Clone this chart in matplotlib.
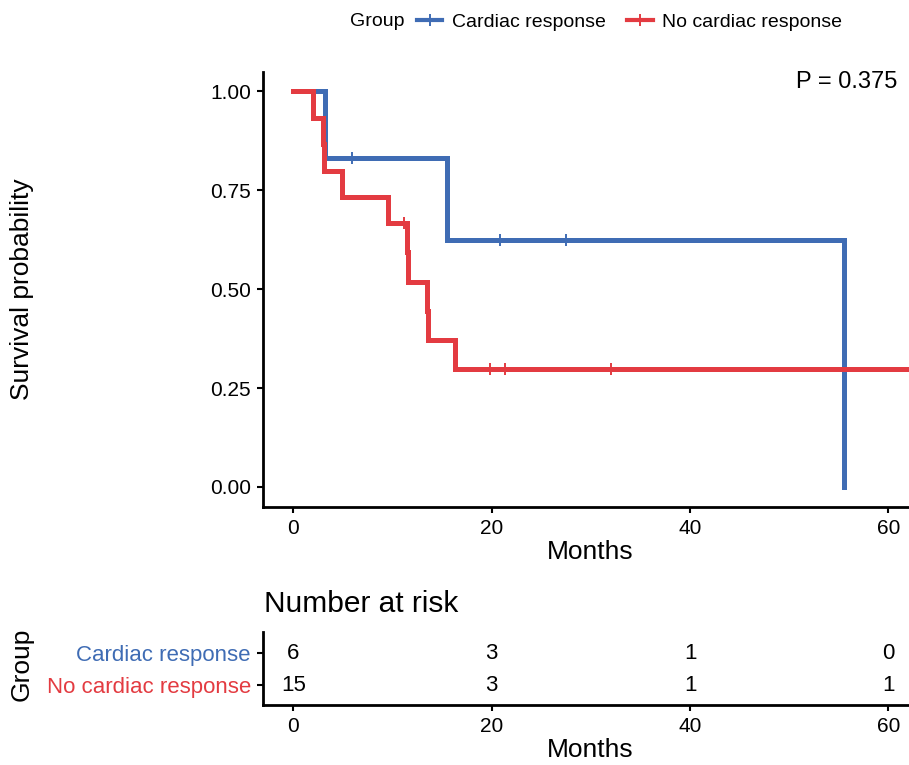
import matplotlib
matplotlib.use("Agg")
import matplotlib.pyplot as plt
from matplotlib.lines import Line2D

plt.rcParams['font.family'] = ['Liberation Sans', 'DejaVu Sans']

# ---- data ----
groups = ["Cardiac response", "No cardiac response"]
colors = ["#3F6CB4", "#E33B41"]

blue_times = [0, 3.2, 15.5, 55.5]
blue_surv = [1.0, 0.833, 0.625, 0.0]
blue_cens_t = [5.9, 20.8, 27.5]
blue_cens_s = [0.833, 0.625, 0.625]

red_times = [0, 2.0, 3.03, 3.13, 4.94, 9.58, 11.43, 11.53, 13.45, 13.6, 16.34, 64.0]
red_surv = [1.0, 0.933, 0.867, 0.800, 0.733, 0.667, 0.593, 0.519, 0.445, 0.371, 0.297, 0.297]
red_cens_t = [11.16, 19.84, 21.3, 32.0]
red_cens_s = [0.667, 0.297, 0.297, 0.297]

risk_times = [0, 20, 40, 60]
risk_blue = [6, 3, 1, 0]
risk_red = [15, 3, 1, 1]

p_text = "P = 0.375"
xticks = [0, 20, 40, 60]
yticks = [0.0, 0.25, 0.5, 0.75, 1.0]
ytick_labels = ["0.00", "0.25", "0.50", "0.75", "1.00"]

W, H = 909, 765
fig = plt.figure(figsize=(W / 100, H / 100), dpi=100)

def fx(px):
    return px / W

def fy(py):
    return 1 - py / H

xmin, xmax = -3.03, 63.6
left_px = 263.3
ppm = 9.917
right_px = left_px + (xmax - xmin) * ppm

# ---- main axes ----
ax = fig.add_axes([fx(left_px), fy(506.7), fx(right_px - left_px), (506.7 - 71.7) / H])
ax.step(blue_times, blue_surv, where='post', color=colors[0], lw=3.6, solid_joinstyle='miter', zorder=3)
ax.step(red_times, red_surv, where='post', color=colors[1], lw=3.6, solid_joinstyle='miter', zorder=4)
ax.plot(blue_cens_t, blue_cens_s, ls='none', marker='|', ms=8.5, mew=1.4, color=colors[0], zorder=5)
ax.plot(red_cens_t, red_cens_s, ls='none', marker='|', ms=8.5, mew=1.4, color=colors[1], zorder=5)
ax.set_xlim(xmin, xmax)
ax.set_ylim(-0.05, 1.05)
ax.set_xticks(xticks)
ax.set_yticks(yticks)
ax.set_yticklabels(ytick_labels)
for s in ['top', 'right']:
    ax.spines[s].set_visible(False)
for s in ['left', 'bottom']:
    ax.spines[s].set_linewidth(2.0)
ax.tick_params(length=4, width=1.5, labelsize=15, pad=5, color='black')
ax.set_facecolor('none')

fig.text(fx(22), fy(289), "Survival probability", rotation=90, fontsize=19, ha='center', va='center')
fig.text(fx(590.5), fy(552), "Months", fontsize=19, ha='center', va='center')
fig.text(fx(796), fy(82), p_text, fontsize=17, ha='left', va='center')

# ---- legend ----
fig.text(fx(350), fy(22), "Group", fontsize=14, ha='left', va='center')
handles = [Line2D([0], [0], color=c, lw=3, marker='|', ms=9, mew=1.4) for c in colors]
fig.legend(handles, groups, loc='center left', bbox_to_anchor=(fx(417), fy(22)), ncol=2,
           frameon=False, fontsize=14, handlelength=1.3, handletextpad=0.5,
           columnspacing=1.1, borderpad=0, borderaxespad=0)

# ---- risk table ----
rax = fig.add_axes([fx(left_px), fy(705), fx(right_px - left_px), (705 - 631.7) / H])
rax.set_xlim(xmin, xmax)
rax.set_ylim(0.375, 2.666)
for t, b, r in zip(risk_times, risk_blue, risk_red):
    rax.text(t, 2, str(b), ha='center', va='center', fontsize=16)
    rax.text(t, 1, str(r), ha='center', va='center', fontsize=16)
rax.set_yticks([2, 1])
rax.set_yticklabels(groups)
for lbl, c in zip(rax.get_yticklabels(), colors):
    lbl.set_color(c)
rax.set_xticks(xticks)
for s in ['top', 'right']:
    rax.spines[s].set_visible(False)
for s in ['left', 'bottom']:
    rax.spines[s].set_linewidth(2.0)
rax.tick_params(length=4, width=1.5, labelsize=15, pad=5, color='black')
rax.tick_params(axis='y', labelsize=16)
rax.set_facecolor('none')

fig.text(fx(264), fy(604), "Number at risk", fontsize=21.5, ha='left', va='center')
fig.text(fx(22), fy(664), "Group", rotation=90, fontsize=19, ha='center', va='center')
fig.text(fx(590.5), fy(750), "Months", fontsize=19, ha='center', va='center')

fig.savefig("out.png", dpi=100)
